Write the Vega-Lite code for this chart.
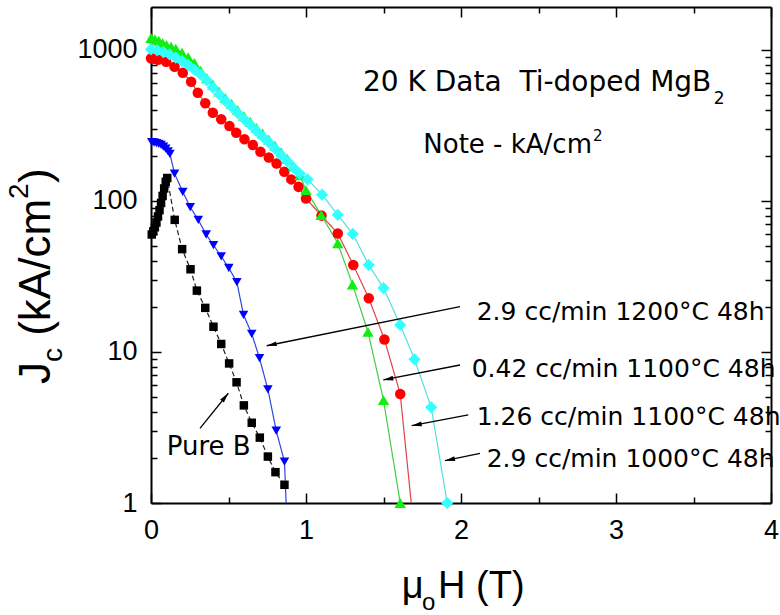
{
  "$schema": "https://vega.github.io/schema/vega-lite/v6.json",
  "width": 620,
  "height": 496,
  "autosize": {"type": "none"},
  "padding": {"left": 151, "top": 7, "right": 9, "bottom": 112},
  "background": "white",
  "config": {"view": {"stroke": null}},
  "resolve": {"axis": {"x": "independent", "y": "independent"}},
  "datasets": {
    "series": [
      {"s": "Pure B", "x": 0.005, "y": 60}, {"s": "Pure B", "x": 0.015, "y": 63}, {"s": "Pure B", "x": 0.025, "y": 67}, {"s": "Pure B", "x": 0.035, "y": 72}, {"s": "Pure B", "x": 0.045, "y": 79}, {"s": "Pure B", "x": 0.055, "y": 87}, {"s": "Pure B", "x": 0.065, "y": 97}, {"s": "Pure B", "x": 0.075, "y": 108}, {"s": "Pure B", "x": 0.085, "y": 121}, {"s": "Pure B", "x": 0.095, "y": 134}, {"s": "Pure B", "x": 0.105, "y": 142}, {"s": "Pure B", "x": 0.153, "y": 75}, {"s": "Pure B", "x": 0.201, "y": 48}, {"s": "Pure B", "x": 0.255, "y": 35.3}, {"s": "Pure B", "x": 0.296, "y": 25.5}, {"s": "Pure B", "x": 0.35, "y": 19.6}, {"s": "Pure B", "x": 0.403, "y": 14.7}, {"s": "Pure B", "x": 0.453, "y": 11.3}, {"s": "Pure B", "x": 0.504, "y": 8.4}, {"s": "Pure B", "x": 0.552, "y": 6.3}, {"s": "Pure B", "x": 0.599, "y": 4.43}, {"s": "Pure B", "x": 0.65, "y": 3.4}, {"s": "Pure B", "x": 0.702, "y": 2.71}, {"s": "Pure B", "x": 0.754, "y": 2.03}, {"s": "Pure B", "x": 0.803, "y": 1.6}, {"s": "Pure B", "x": 0.861, "y": 1.32},
      {"s": "2.9 cc/min 1200°C 48h", "x": 0.005, "y": 245}, {"s": "2.9 cc/min 1200°C 48h", "x": 0.02, "y": 244}, {"s": "2.9 cc/min 1200°C 48h", "x": 0.035, "y": 242}, {"s": "2.9 cc/min 1200°C 48h", "x": 0.05, "y": 239}, {"s": "2.9 cc/min 1200°C 48h", "x": 0.065, "y": 235}, {"s": "2.9 cc/min 1200°C 48h", "x": 0.08, "y": 229}, {"s": "2.9 cc/min 1200°C 48h", "x": 0.095, "y": 222}, {"s": "2.9 cc/min 1200°C 48h", "x": 0.11, "y": 213}, {"s": "2.9 cc/min 1200°C 48h", "x": 0.122, "y": 205}, {"s": "2.9 cc/min 1200°C 48h", "x": 0.152, "y": 152}, {"s": "2.9 cc/min 1200°C 48h", "x": 0.205, "y": 115}, {"s": "2.9 cc/min 1200°C 48h", "x": 0.253, "y": 91}, {"s": "2.9 cc/min 1200°C 48h", "x": 0.305, "y": 75}, {"s": "2.9 cc/min 1200°C 48h", "x": 0.356, "y": 60}, {"s": "2.9 cc/min 1200°C 48h", "x": 0.403, "y": 51}, {"s": "2.9 cc/min 1200°C 48h", "x": 0.453, "y": 43}, {"s": "2.9 cc/min 1200°C 48h", "x": 0.502, "y": 36}, {"s": "2.9 cc/min 1200°C 48h", "x": 0.554, "y": 29}, {"s": "2.9 cc/min 1200°C 48h", "x": 0.597, "y": 17.6}, {"s": "2.9 cc/min 1200°C 48h", "x": 0.65, "y": 13.2}, {"s": "2.9 cc/min 1200°C 48h", "x": 0.7, "y": 9.1}, {"s": "2.9 cc/min 1200°C 48h", "x": 0.754, "y": 5.66}, {"s": "2.9 cc/min 1200°C 48h", "x": 0.808, "y": 3.01}, {"s": "2.9 cc/min 1200°C 48h", "x": 0.861, "y": 1.88}, {"s": "2.9 cc/min 1200°C 48h", "x": 0.872, "y": 1, "m": false},
      {"s": "1.26 cc/min 1100°C 48h", "x": 0.0, "y": 880}, {"s": "1.26 cc/min 1100°C 48h", "x": 0.02, "y": 875}, {"s": "1.26 cc/min 1100°C 48h", "x": 0.045, "y": 862}, {"s": "1.26 cc/min 1100°C 48h", "x": 0.098, "y": 835}, {"s": "1.26 cc/min 1100°C 48h", "x": 0.152, "y": 775}, {"s": "1.26 cc/min 1100°C 48h", "x": 0.205, "y": 707}, {"s": "1.26 cc/min 1100°C 48h", "x": 0.259, "y": 617}, {"s": "1.26 cc/min 1100°C 48h", "x": 0.302, "y": 521}, {"s": "1.26 cc/min 1100°C 48h", "x": 0.35, "y": 444}, {"s": "1.26 cc/min 1100°C 48h", "x": 0.399, "y": 384}, {"s": "1.26 cc/min 1100°C 48h", "x": 0.453, "y": 348}, {"s": "1.26 cc/min 1100°C 48h", "x": 0.506, "y": 314}, {"s": "1.26 cc/min 1100°C 48h", "x": 0.55, "y": 283}, {"s": "1.26 cc/min 1100°C 48h", "x": 0.603, "y": 256}, {"s": "1.26 cc/min 1100°C 48h", "x": 0.657, "y": 235}, {"s": "1.26 cc/min 1100°C 48h", "x": 0.706, "y": 212}, {"s": "1.26 cc/min 1100°C 48h", "x": 0.76, "y": 194}, {"s": "1.26 cc/min 1100°C 48h", "x": 0.81, "y": 177}, {"s": "1.26 cc/min 1100°C 48h", "x": 0.86, "y": 156}, {"s": "1.26 cc/min 1100°C 48h", "x": 0.905, "y": 139}, {"s": "1.26 cc/min 1100°C 48h", "x": 0.952, "y": 124}, {"s": "1.26 cc/min 1100°C 48h", "x": 1.0, "y": 104}, {"s": "1.26 cc/min 1100°C 48h", "x": 1.1, "y": 80}, {"s": "1.26 cc/min 1100°C 48h", "x": 1.205, "y": 61}, {"s": "1.26 cc/min 1100°C 48h", "x": 1.305, "y": 37.7}, {"s": "1.26 cc/min 1100°C 48h", "x": 1.405, "y": 22.7}, {"s": "1.26 cc/min 1100°C 48h", "x": 1.506, "y": 12.1}, {"s": "1.26 cc/min 1100°C 48h", "x": 1.608, "y": 5.27}, {"s": "1.26 cc/min 1100°C 48h", "x": 1.679, "y": 1, "m": false},
      {"s": "0.42 cc/min 1100°C 48h", "x": 0.0, "y": 1200}, {"s": "0.42 cc/min 1100°C 48h", "x": 0.025, "y": 1180}, {"s": "0.42 cc/min 1100°C 48h", "x": 0.05, "y": 1150}, {"s": "0.42 cc/min 1100°C 48h", "x": 0.075, "y": 1110}, {"s": "0.42 cc/min 1100°C 48h", "x": 0.1, "y": 1080}, {"s": "0.42 cc/min 1100°C 48h", "x": 0.13, "y": 1050}, {"s": "0.42 cc/min 1100°C 48h", "x": 0.16, "y": 1020}, {"s": "0.42 cc/min 1100°C 48h", "x": 0.2, "y": 960}, {"s": "0.42 cc/min 1100°C 48h", "x": 0.24, "y": 895}, {"s": "0.42 cc/min 1100°C 48h", "x": 0.28, "y": 820}, {"s": "0.42 cc/min 1100°C 48h", "x": 0.32, "y": 730}, {"s": "0.42 cc/min 1100°C 48h", "x": 0.36, "y": 650}, {"s": "0.42 cc/min 1100°C 48h", "x": 0.4, "y": 590}, {"s": "0.42 cc/min 1100°C 48h", "x": 0.44, "y": 530}, {"s": "0.42 cc/min 1100°C 48h", "x": 0.48, "y": 480}, {"s": "0.42 cc/min 1100°C 48h", "x": 0.52, "y": 440}, {"s": "0.42 cc/min 1100°C 48h", "x": 0.56, "y": 400}, {"s": "0.42 cc/min 1100°C 48h", "x": 0.6, "y": 365}, {"s": "0.42 cc/min 1100°C 48h", "x": 0.64, "y": 335}, {"s": "0.42 cc/min 1100°C 48h", "x": 0.68, "y": 305}, {"s": "0.42 cc/min 1100°C 48h", "x": 0.72, "y": 280}, {"s": "0.42 cc/min 1100°C 48h", "x": 0.76, "y": 255}, {"s": "0.42 cc/min 1100°C 48h", "x": 0.8, "y": 232}, {"s": "0.42 cc/min 1100°C 48h", "x": 0.84, "y": 210}, {"s": "0.42 cc/min 1100°C 48h", "x": 0.88, "y": 190}, {"s": "0.42 cc/min 1100°C 48h", "x": 0.92, "y": 170}, {"s": "0.42 cc/min 1100°C 48h", "x": 0.96, "y": 148}, {"s": "0.42 cc/min 1100°C 48h", "x": 1.0, "y": 118}, {"s": "0.42 cc/min 1100°C 48h", "x": 1.098, "y": 80.8}, {"s": "0.42 cc/min 1100°C 48h", "x": 1.205, "y": 52.5}, {"s": "0.42 cc/min 1100°C 48h", "x": 1.3, "y": 28}, {"s": "0.42 cc/min 1100°C 48h", "x": 1.4, "y": 13.6}, {"s": "0.42 cc/min 1100°C 48h", "x": 1.5, "y": 4.8}, {"s": "0.42 cc/min 1100°C 48h", "x": 1.608, "y": 1.0},
      {"s": "2.9 cc/min 1000°C 48h", "x": 0.0, "y": 1010}, {"s": "2.9 cc/min 1000°C 48h", "x": 0.04, "y": 995}, {"s": "2.9 cc/min 1000°C 48h", "x": 0.08, "y": 970}, {"s": "2.9 cc/min 1000°C 48h", "x": 0.12, "y": 935}, {"s": "2.9 cc/min 1000°C 48h", "x": 0.16, "y": 890}, {"s": "2.9 cc/min 1000°C 48h", "x": 0.2, "y": 845}, {"s": "2.9 cc/min 1000°C 48h", "x": 0.24, "y": 795}, {"s": "2.9 cc/min 1000°C 48h", "x": 0.28, "y": 740}, {"s": "2.9 cc/min 1000°C 48h", "x": 0.32, "y": 690}, {"s": "2.9 cc/min 1000°C 48h", "x": 0.36, "y": 630}, {"s": "2.9 cc/min 1000°C 48h", "x": 0.4, "y": 565}, {"s": "2.9 cc/min 1000°C 48h", "x": 0.44, "y": 508}, {"s": "2.9 cc/min 1000°C 48h", "x": 0.48, "y": 460}, {"s": "2.9 cc/min 1000°C 48h", "x": 0.52, "y": 420}, {"s": "2.9 cc/min 1000°C 48h", "x": 0.56, "y": 382}, {"s": "2.9 cc/min 1000°C 48h", "x": 0.6, "y": 348}, {"s": "2.9 cc/min 1000°C 48h", "x": 0.64, "y": 320}, {"s": "2.9 cc/min 1000°C 48h", "x": 0.68, "y": 292}, {"s": "2.9 cc/min 1000°C 48h", "x": 0.72, "y": 267}, {"s": "2.9 cc/min 1000°C 48h", "x": 0.76, "y": 244}, {"s": "2.9 cc/min 1000°C 48h", "x": 0.8, "y": 222}, {"s": "2.9 cc/min 1000°C 48h", "x": 0.84, "y": 201}, {"s": "2.9 cc/min 1000°C 48h", "x": 0.88, "y": 183}, {"s": "2.9 cc/min 1000°C 48h", "x": 0.92, "y": 166}, {"s": "2.9 cc/min 1000°C 48h", "x": 0.96, "y": 152}, {"s": "2.9 cc/min 1000°C 48h", "x": 1.01, "y": 139}, {"s": "2.9 cc/min 1000°C 48h", "x": 1.104, "y": 110}, {"s": "2.9 cc/min 1000°C 48h", "x": 1.205, "y": 81}, {"s": "2.9 cc/min 1000°C 48h", "x": 1.302, "y": 60.5}, {"s": "2.9 cc/min 1000°C 48h", "x": 1.405, "y": 37.7}, {"s": "2.9 cc/min 1000°C 48h", "x": 1.5, "y": 26.5}, {"s": "2.9 cc/min 1000°C 48h", "x": 1.608, "y": 15.1}, {"s": "2.9 cc/min 1000°C 48h", "x": 1.7, "y": 8.95}, {"s": "2.9 cc/min 1000°C 48h", "x": 1.808, "y": 4.3}, {"s": "2.9 cc/min 1000°C 48h", "x": 1.911, "y": 1.0}
    ],
    "arrows": [
      {"x1": 1.9935, "y1": 19.95, "x2": 0.7465, "y2": 11.0},
      {"x1": 1.9935, "y1": 8.2, "x2": 1.4987, "y2": 6.53},
      {"x1": 2.047, "y1": 3.83, "x2": 1.682, "y2": 3.25},
      {"x1": 2.1226, "y1": 2.134, "x2": 1.8968, "y2": 1.906},
      {"x1": 0.3161, "y1": 3.124, "x2": 0.4987, "y2": 5.33}
    ],
    "texts": [
      {"r": "title", "x": 1.3677, "y": 535.3, "t": "20 K Data\u00a0 Ti-doped MgB"},
      {"r": "sub", "x": 3.63, "y": 439, "t": "2"},
      {"r": "note", "x": 1.7568, "y": 207, "t": "Note - kA/cm"},
      {"r": "sup", "x": 2.8516, "y": 249.7, "t": "2"},
      {"r": "lab", "x": 2.1013, "y": 16.29, "t": "2.9 cc/min 1200°C 48h"},
      {"r": "lab", "x": 2.069, "y": 6.86, "t": "0.42 cc/min 1100°C 48h"},
      {"r": "lab", "x": 2.1013, "y": 3.286, "t": "1.26 cc/min 1100°C 48h"},
      {"r": "lab", "x": 2.1658, "y": 1.739, "t": "2.9 cc/min 1000°C 48h"},
      {"r": "pure", "x": 0.1013, "y": 2.079, "t": "Pure B"},
      {"r": "yt", "x": -0.6516, "y": 6.138, "t": "J"},
      {"r": "yts", "x": -0.5742, "y": 8.588, "t": "c"},
      {"r": "yt", "x": -0.6516, "y": 12.8, "t": "(kA/cm"},
      {"r": "yts", "x": -0.7935, "y": 103.1, "t": "2"},
      {"r": "yt", "x": -0.6516, "y": 131.6, "t": ")"},
      {"r": "xt", "x": 1.6174, "y": 0.2338, "t": "μ"},
      {"r": "xts", "x": 1.748, "y": 0.1956, "t": "o"},
      {"r": "xt", "x": 1.852, "y": 0.2338, "t": "H (T)"}
    ]
  },
  "layer": [
    {
      "data": {"name": "series"},
      "mark": {"type": "line", "strokeWidth": 1.2},
      "encoding": {
        "x": {"field": "x", "type": "quantitative", "scale": {"domain": [0, 4], "nice": false, "zero": false},
          "axis": {"orient": "bottom", "values": [0, 1, 2, 3, 4], "format": "d", "title": null, "grid": false, "domainColor": "black", "domainWidth": 2, "tickColor": "black", "tickWidth": 1.5, "tickSize": -10, "labelPadding": 24, "labelFont": "Liberation Sans", "labelFontSize": 27, "labelColor": "black", "labelFlush": false, "labelOverlap": false}},
        "y": {"field": "y", "type": "quantitative", "scale": {"type": "log", "domain": [1, 1926], "nice": false},
          "axis": {"orient": "left", "values": [1, 10, 100, 1000], "format": "d", "title": null, "grid": false, "domainColor": "black", "domainWidth": 2, "tickColor": "black", "tickWidth": 1.5, "tickSize": -10, "labelPadding": 24, "labelFont": "Liberation Sans", "labelFontSize": 27, "labelColor": "black", "labelFlush": false, "labelOverlap": false}},
        "stroke": {"field": "s", "type": "nominal", "legend": null,
          "scale": {"domain": ["Pure B", "2.9 cc/min 1200°C 48h", "1.26 cc/min 1100°C 48h", "0.42 cc/min 1100°C 48h", "2.9 cc/min 1000°C 48h"], "range": ["#222222", "#3344dd", "#dd4444", "#44cc44", "#55dddd"]}},
        "strokeDash": {"field": "s", "type": "nominal", "legend": null,
          "scale": {"domain": ["Pure B", "2.9 cc/min 1200°C 48h", "1.26 cc/min 1100°C 48h", "0.42 cc/min 1100°C 48h", "2.9 cc/min 1000°C 48h"], "range": [[5, 3], [1, 0], [1, 0], [1, 0], [1, 0]]}}
      }
    },
    {
      "data": {"name": "series"},
      "transform": [{"filter": "datum.m !== false"}],
      "mark": {"type": "point", "filled": true, "opacity": 1, "strokeWidth": 0},
      "encoding": {
        "x": {"field": "x", "type": "quantitative", "scale": {"domain": [0, 4], "nice": false, "zero": false},
          "axis": {"orient": "top", "values": [0, 1, 2, 3, 4], "labels": false, "title": null, "grid": false, "domainColor": "black", "domainWidth": 2, "tickColor": "black", "tickWidth": 1.5, "tickSize": -10}},
        "y": {"field": "y", "type": "quantitative", "scale": {"type": "log", "domain": [1, 1926], "nice": false},
          "axis": {"orient": "right", "values": [1, 10, 100, 1000], "labels": false, "title": null, "grid": false, "domainColor": "black", "domainWidth": 2, "tickColor": "black", "tickWidth": 1.5, "tickSize": -10}},
        "fill": {"field": "s", "type": "nominal", "legend": null,
          "scale": {"domain": ["Pure B", "2.9 cc/min 1200°C 48h", "1.26 cc/min 1100°C 48h", "0.42 cc/min 1100°C 48h", "2.9 cc/min 1000°C 48h"], "range": ["#000000", "#0000ff", "#ff0000", "#11ee11", "#33ffff"]}},
        "shape": {"field": "s", "type": "nominal", "legend": null,
          "scale": {"domain": ["Pure B", "2.9 cc/min 1200°C 48h", "1.26 cc/min 1100°C 48h", "0.42 cc/min 1100°C 48h", "2.9 cc/min 1000°C 48h"], "range": ["square", "triangle-down", "circle", "triangle-up", "diamond"]}},
        "size": {"field": "s", "type": "nominal", "legend": null,
          "scale": {"domain": ["Pure B", "2.9 cc/min 1200°C 48h", "1.26 cc/min 1100°C 48h", "0.42 cc/min 1100°C 48h", "2.9 cc/min 1000°C 48h"], "range": [72, 150, 100, 140, 125]}}
      }
    },
    {
      "data": {"name": "arrows"},
      "mark": {"type": "rule", "color": "black", "strokeWidth": 1.3},
      "encoding": {
        "x": {"field": "x1", "type": "quantitative", "scale": {"domain": [0, 4], "nice": false, "zero": false},
          "axis": {"orient": "bottom", "values": [0.5, 1.5, 2.5, 3.5], "labels": false, "domain": false, "title": null, "grid": false, "tickColor": "black", "tickWidth": 1.5, "tickSize": -6}},
        "y": {"field": "y1", "type": "quantitative", "scale": {"type": "log", "domain": [1, 1926], "nice": false},
          "axis": {"orient": "left", "values": [2, 3, 4, 5, 6, 7, 8, 9, 20, 30, 40, 50, 60, 70, 80, 90, 200, 300, 400, 500, 600, 700, 800, 900], "labels": false, "domain": false, "title": null, "grid": false, "tickColor": "black", "tickWidth": 1.5, "tickSize": -6}},
        "x2": {"field": "x2"},
        "y2": {"field": "y2"}
      }
    },
    {
      "data": {"name": "arrows"},
      "transform": [{"calculate": "atan2(-(log(datum.y2) - log(datum.y1)) / LN10 * 151, (datum.x2 - datum.x1) * 155) * 180 / PI", "as": "ang"}],
      "mark": {"type": "point", "shape": "M0,0L-2.5,-0.6L-2.5,0.6Z", "size": 64, "filled": true, "color": "black", "opacity": 1},
      "encoding": {
        "x": {"field": "x2", "type": "quantitative", "scale": {"domain": [0, 4], "nice": false, "zero": false},
          "axis": {"orient": "top", "values": [0.5, 1.5, 2.5, 3.5], "labels": false, "domain": false, "title": null, "grid": false, "tickColor": "black", "tickWidth": 1.5, "tickSize": -6}},
        "y": {"field": "y2", "type": "quantitative", "scale": {"type": "log", "domain": [1, 1926], "nice": false},
          "axis": {"orient": "right", "values": [2, 3, 4, 5, 6, 7, 8, 9, 20, 30, 40, 50, 60, 70, 80, 90, 200, 300, 400, 500, 600, 700, 800, 900], "labels": false, "domain": false, "title": null, "grid": false, "tickColor": "black", "tickWidth": 1.5, "tickSize": -6}},
        "angle": {"field": "ang", "type": "quantitative", "scale": null}
      }
    },
    {
      "data": {"name": "texts"},
      "transform": [{"filter": "datum.r == 'title'"}],
      "mark": {"type": "text", "font": "DejaVu Sans", "fontSize": 28, "align": "left", "baseline": "alphabetic", "color": "black"},
      "encoding": {
        "x": {"field": "x", "type": "quantitative", "scale": {"domain": [0, 4], "nice": false, "zero": false}, "axis": null},
        "y": {"field": "y", "type": "quantitative", "scale": {"type": "log", "domain": [1, 1926], "nice": false}, "axis": null},
        "text": {"field": "t"}
      }
    },
    {
      "data": {"name": "texts"},
      "transform": [{"filter": "datum.r == 'sub'"}],
      "mark": {"type": "text", "font": "DejaVu Sans", "fontSize": 17, "align": "left", "baseline": "alphabetic", "color": "black"},
      "encoding": {
        "x": {"field": "x", "type": "quantitative", "scale": {"domain": [0, 4], "nice": false, "zero": false}, "axis": null},
        "y": {"field": "y", "type": "quantitative", "scale": {"type": "log", "domain": [1, 1926], "nice": false}, "axis": null},
        "text": {"field": "t"}
      }
    },
    {
      "data": {"name": "texts"},
      "transform": [{"filter": "datum.r == 'note' || datum.r == 'pure'"}],
      "mark": {"type": "text", "font": "DejaVu Sans", "fontSize": 26, "align": "left", "baseline": "alphabetic", "color": "black"},
      "encoding": {
        "x": {"field": "x", "type": "quantitative", "scale": {"domain": [0, 4], "nice": false, "zero": false}, "axis": null},
        "y": {"field": "y", "type": "quantitative", "scale": {"type": "log", "domain": [1, 1926], "nice": false}, "axis": null},
        "text": {"field": "t"}
      }
    },
    {
      "data": {"name": "texts"},
      "transform": [{"filter": "datum.r == 'sup'"}],
      "mark": {"type": "text", "font": "DejaVu Sans", "fontSize": 15, "align": "left", "baseline": "alphabetic", "color": "black"},
      "encoding": {
        "x": {"field": "x", "type": "quantitative", "scale": {"domain": [0, 4], "nice": false, "zero": false}, "axis": null},
        "y": {"field": "y", "type": "quantitative", "scale": {"type": "log", "domain": [1, 1926], "nice": false}, "axis": null},
        "text": {"field": "t"}
      }
    },
    {
      "data": {"name": "texts"},
      "transform": [{"filter": "datum.r == 'lab'"}],
      "mark": {"type": "text", "font": "DejaVu Sans", "fontSize": 25, "align": "left", "baseline": "alphabetic", "color": "black"},
      "encoding": {
        "x": {"field": "x", "type": "quantitative", "scale": {"domain": [0, 4], "nice": false, "zero": false}, "axis": null},
        "y": {"field": "y", "type": "quantitative", "scale": {"type": "log", "domain": [1, 1926], "nice": false}, "axis": null},
        "text": {"field": "t"}
      }
    },
    {
      "data": {"name": "texts"},
      "transform": [{"filter": "datum.r == 'yt'"}],
      "mark": {"type": "text", "font": "Liberation Sans", "fontSize": 44, "angle": 270, "align": "left", "baseline": "alphabetic", "color": "black"},
      "encoding": {
        "x": {"field": "x", "type": "quantitative", "scale": {"domain": [0, 4], "nice": false, "zero": false}, "axis": null},
        "y": {"field": "y", "type": "quantitative", "scale": {"type": "log", "domain": [1, 1926], "nice": false}, "axis": null},
        "text": {"field": "t"}
      }
    },
    {
      "data": {"name": "texts"},
      "transform": [{"filter": "datum.r == 'yts'"}],
      "mark": {"type": "text", "font": "Liberation Sans", "fontSize": 28, "angle": 270, "align": "left", "baseline": "alphabetic", "color": "black"},
      "encoding": {
        "x": {"field": "x", "type": "quantitative", "scale": {"domain": [0, 4], "nice": false, "zero": false}, "axis": null},
        "y": {"field": "y", "type": "quantitative", "scale": {"type": "log", "domain": [1, 1926], "nice": false}, "axis": null},
        "text": {"field": "t"}
      }
    },
    {
      "data": {"name": "texts"},
      "transform": [{"filter": "datum.r == 'xt'"}],
      "mark": {"type": "text", "font": "Liberation Sans", "fontSize": 38, "align": "left", "baseline": "alphabetic", "color": "black"},
      "encoding": {
        "x": {"field": "x", "type": "quantitative", "scale": {"domain": [0, 4], "nice": false, "zero": false}, "axis": null},
        "y": {"field": "y", "type": "quantitative", "scale": {"type": "log", "domain": [1, 1926], "nice": false}, "axis": null},
        "text": {"field": "t"}
      }
    },
    {
      "data": {"name": "texts"},
      "transform": [{"filter": "datum.r == 'xts'"}],
      "mark": {"type": "text", "font": "Liberation Sans", "fontSize": 24, "align": "left", "baseline": "alphabetic", "color": "black"},
      "encoding": {
        "x": {"field": "x", "type": "quantitative", "scale": {"domain": [0, 4], "nice": false, "zero": false}, "axis": null},
        "y": {"field": "y", "type": "quantitative", "scale": {"type": "log", "domain": [1, 1926], "nice": false}, "axis": null},
        "text": {"field": "t"}
      }
    }
  ]
}
